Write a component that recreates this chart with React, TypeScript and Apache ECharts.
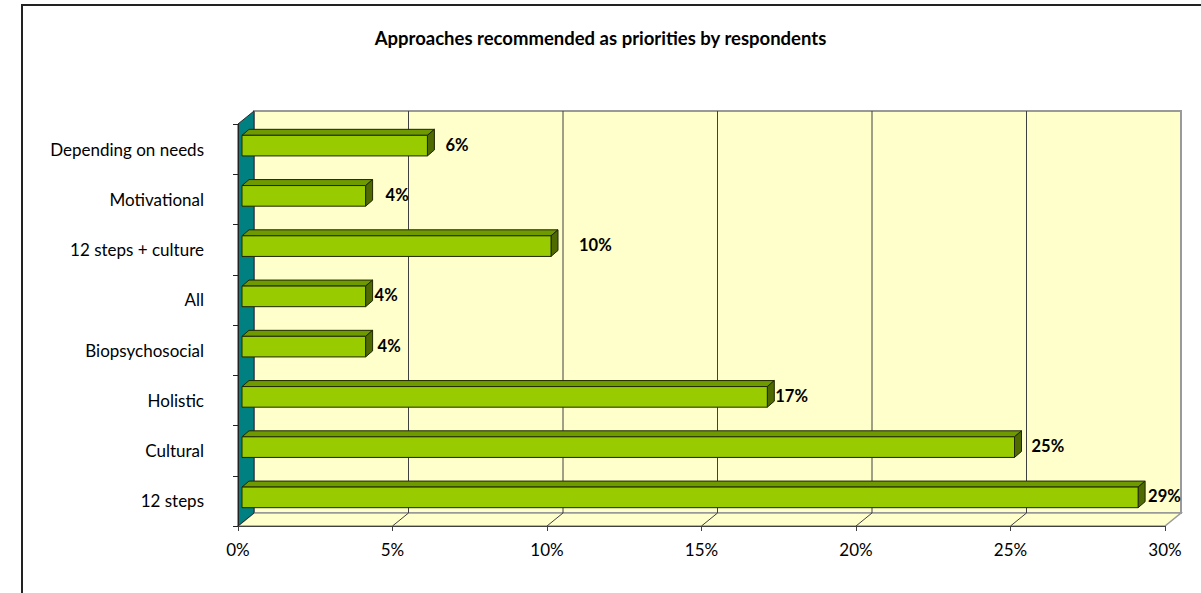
import React, { useEffect, useRef } from "react";
import * as echarts from "echarts";

const title = "Approaches recommended as priorities by respondents";
const categories = [
  "12 steps",
  "Cultural",
  "Holistic",
  "Biopsychosocial",
  "All",
  "12 steps + culture",
  "Motivational",
  "Depending on needs",
];
const values = [29, 25, 17, 4, 4, 10, 4, 6];
const xTicks = [0, 5, 10, 15, 20, 25, 30];
// per-bar horizontal gap of the value label (styling)
const labelGaps = [10, 17, 8, 12, 9, 28, 20, 18];

const DX = 16;
const DY = -13;
const FONT = "Lato, 'Open Sans', sans-serif";

export default function App() {
  const ref = useRef<HTMLDivElement>(null);
  useEffect(() => {
    if (!ref.current) return;
    const chart = echarts.init(ref.current, null, { renderer: "svg" });

    const decor = (params: any, api: any) => {
      const cs = params.coordSys;
      const x0 = cs.x, y0 = cs.y, w = cs.width, h = cs.height;
      const children: any[] = [];
      children.push({
        type: "rect",
        shape: { x: x0 + DX, y: y0 + DY, width: w, height: h },
        style: { fill: "#FFFFCC", stroke: "#9a9a9a", lineWidth: 2 },
      });
      children.push({
        type: "polygon",
        shape: {
          points: [
            [x0, y0 + h],
            [x0 + DX, y0 + h + DY],
            [x0 + w + DX, y0 + h + DY],
            [x0 + w, y0 + h],
          ],
        },
        style: { fill: "#FFFFCC", stroke: "#9a9a9a", lineWidth: 1.5 },
      });
      xTicks.slice(1, -1).forEach((t) => {
        const px = api.coord([t, 0])[0];
        children.push({
          type: "line",
          shape: { x1: px + DX, y1: y0 + DY, x2: px + DX, y2: y0 + h + DY },
          style: { stroke: "#404040", lineWidth: 1 },
        });
        children.push({
          type: "line",
          shape: { x1: px + DX, y1: y0 + h + DY, x2: px, y2: y0 + h },
          style: { stroke: "#404040", lineWidth: 1 },
        });
      });
      children.push({
        type: "polygon",
        shape: {
          points: [
            [x0, y0],
            [x0 + DX, y0 + DY],
            [x0 + DX, y0 + h + DY],
            [x0, y0 + h],
          ],
        },
        style: { fill: "#008080", stroke: "#2a2a2a", lineWidth: 1 },
      });
      return { type: "group", children };
    };

    const bars = (params: any, api: any) => {
      const v = api.value(0);
      const i = api.value(1);
      const s = api.coord([0, i]);
      const e = api.coord([v, i]);
      const bh = api.size([0, 1])[1] * 0.41;
      const bx0 = s[0] + 4;
      const bx1 = e[0] + 4;
      const yc = s[1] - 3.5;
      const top = yc - bh / 2;
      const bot = yc + bh / 2;
      const ox = 7, oy = -6;
      const stroke = "#1f2600";
      return {
        type: "group",
        children: [
          {
            type: "polygon",
            shape: { points: [[bx0, top], [bx0 + ox, top + oy], [bx1 + ox, top + oy], [bx1, top]] },
            style: { fill: "#6E9A00", stroke, lineWidth: 1 },
          },
          {
            type: "polygon",
            shape: { points: [[bx1, top], [bx1 + ox, top + oy], [bx1 + ox, bot + oy], [bx1, bot]] },
            style: { fill: "#4F6A00", stroke, lineWidth: 1 },
          },
          {
            type: "rect",
            shape: { x: bx0, y: top, width: bx1 - bx0, height: bh },
            style: { fill: "#99CC00", stroke, lineWidth: 1 },
          },
          {
            type: "text",
            style: {
              text: v + "%",
              x: bx1 + labelGaps[params.dataIndex],
              y: yc - 1,
              fill: "#000",
              fontSize: 16.5,
              fontWeight: "bold",
              fontFamily: FONT,
              align: "left",
              verticalAlign: "middle",
            },
          },
        ],
      };
    };

    chart.setOption({
      animation: false,
      backgroundColor: "#fff",
      title: {
        text: title,
        left: "center",
        top: 23,
        textStyle: { fontSize: 18.5, fontWeight: "bold", color: "#000", fontFamily: FONT },
      },
      graphic: [
        {
          type: "rect",
          shape: { x: 22, y: 5, width: 1300, height: 800 },
          style: { fill: "none", stroke: "#222", lineWidth: 2 },
          silent: true,
        },
      ],
      grid: { left: 238, right: 36, top: 124, bottom: 67, outerBoundsMode: "none" },
      xAxis: {
        type: "value",
        min: 0,
        max: 30,
        interval: 5,
        z: 5,
        axisLine: { show: true, lineStyle: { color: "#404040", width: 1 } },
        axisTick: { show: true, length: 5, lineStyle: { color: "#404040" } },
        splitLine: { show: false },
        axisLabel: {
          formatter: "{value}%",
          margin: 15,
          color: "#000",
          fontSize: 17,
          fontFamily: FONT,
        },
      },
      yAxis: {
        type: "category",
        data: categories,
        z: 5,
        axisLine: { show: true, lineStyle: { color: "#222", width: 1 } },
        axisTick: { show: true, length: 5, lineStyle: { color: "#222" } },
        axisLabel: {
          margin: 34,
          color: "#000",
          fontSize: 17,
          fontFamily: FONT,
        },
      },
      series: [
        {
          type: "custom",
          name: "decor",
          z: 1,
          silent: true,
          renderItem: decor,
          data: [[0, 0]],
          encode: { x: 0, y: 1 },
        },
        {
          type: "custom",
          name: "share",
          z: 3,
          renderItem: bars,
          data: values.map((v, i) => [v, i]),
          encode: { x: 0, y: 1 },
        },
      ],
    });
    return () => chart.dispose();
  }, []);

  return (
    <div
      ref={ref}
      style={{ position: "absolute", left: 0, top: 0, width: 1201, height: 593 }}
    />
  );
}
